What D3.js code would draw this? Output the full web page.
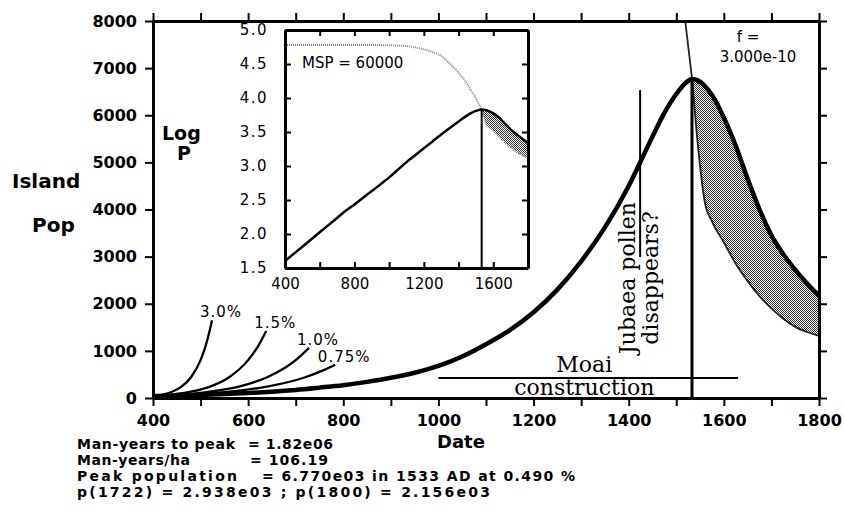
<!DOCTYPE html>
<html>
<head>
<meta charset="utf-8">
<script src="https://cdn.jsdelivr.net/npm/d3@7"></script>
<style>
body{margin:0;background:#fff}
svg{display:block}
</style>
</head>
<body>
<div id="chart"></div>
<script>
// population model run
const years = [400,450,500,550,600,650,700,750,800,850,900,950,1000,1050,1100,1150,1200,1250,1300,1350,1400,1450,1475,1500,1520,1533,1545,1560,1575,1600,1625,1650,1675,1700,1725,1750,1775,1800]
const pop = [40,51,65,83,106,135,172,220,272,342,428,537,680,880,1140,1440,1820,2300,2900,3620,4500,5550,6050,6450,6690,6770,6740,6620,6430,5950,5350,4650,4000,3450,3050,2720,2430,2170]
const cap = [60000,60000,60000,60000,60000,60000,60000,60000,60000,60000,60000,59900,59700,59000,58000,55500,52000,47500,41500,32000,23500,16000,12500,10000,7900,6770,5400,4150,3750,3300,2850,2480,2160,1900,1680,1510,1400,1319]

// simple exponential growth curves
const rate30Years = [400,420,440,460,480,500,510,520,524]
const rate30Pop = [40,73,133,242,441,804,1085,1464,1650]
const rate15Years = [400,440,480,520,560,600,620,638]
const rate15Pop = [40,73,133,242,441,804,1085,1421]
const rate10Years = [400,480,560,600,640,680,700,728]
const rate10Pop = [40,89,198,296,441,658,803,1063]
const rate075Years = [400,480,560,640,720,760,783]
const rate075Pop = [40,73,133,242,441,597,707]
const rateLabels = ["3.0%","1.5%","1.0%","0.75%"]

const yearTicks = [400,500,600,700,800,900,1000,1100,1200,1300,1400,1500,1600,1700,1800]
const yearLabels = [400,600,800,1000,1200,1400,1600,1800]
const popTicks = [0,1000,2000,3000,4000,5000,6000,7000,8000]
const insetXTicks = [400,600,800,1000,1200,1400,1600,1800]
const insetXLabels = [400,800,1200,1600]
const insetYTicks = [1.5,2.0,2.5,3.0,3.5,4.0,4.5,5.0]

const peakYear = 1533
const moaiStart = 1000, moaiEnd = 1630
const pollenYear = 1424

const summaryLines = [
  ["Man-years to peak", "= 1.82e06"],
  ["Man-years/ha", "= 106.19"],
  ["Peak population", "= 6.770e03 in 1533 AD at 0.490 %"],
  ["p(1722) = 2.938e03 ; p(1800) = 2.156e03", ""]
]

const width = 844, height = 526
const svg = d3.select("#chart").append("svg").attr("width",width).attr("height",height)

const sans = "'DejaVu Sans', sans-serif"
const serif = "'DejaVu Serif', serif"

const x = d3.scaleLinear().domain([400,1800]).range([153,819])
const y = d3.scaleLinear().domain([0,8000]).range([398,21])

const rows = years.map((yr,i)=>({year:yr,pop:pop[i],cap:cap[i]}))
const peakIdx = years.indexOf(peakYear)
const after = rows.slice(peakIdx)

// stipple for the shaded band
const defs = svg.append("defs")
const pat = defs.append("pattern").attr("id","stip").attr("width",2).attr("height",2)
   .attr("patternUnits","userSpaceOnUse")
pat.append("rect").attr("width",2).attr("height",2).attr("fill","#fff")
pat.append("rect").attr("width",1).attr("height",1).attr("fill","#333")
pat.append("rect").attr("x",1).attr("y",1).attr("width",1).attr("height",1).attr("fill","#333")

defs.append("clipPath").attr("id","mainclip").append("rect")
   .attr("x",x(400)).attr("y",y(8000)).attr("width",x(1800)-x(400)).attr("height",y(0)-y(8000))

const plot = svg.append("g").attr("clip-path","url(#mainclip)")

plot.append("path").datum(after)
   .attr("fill","url(#stip)")
   .attr("d",d3.area().x(d=>x(d.year)).y0(d=>y(d.cap)).y1(d=>y(d.pop)).curve(d3.curveMonotoneX))

plot.append("path").datum(rows.filter(d=>d.year>=1450))
   .attr("fill","none").attr("stroke","#222").attr("stroke-width",1.8)
   .attr("d",d3.line().x(d=>x(d.year)).y(d=>y(d.cap)).curve(d3.curveMonotoneX))

const rateSets = [[rate30Years,rate30Pop],[rate15Years,rate15Pop],[rate10Years,rate10Pop],[rate075Years,rate075Pop]]
rateSets.forEach(([ys,ps],k)=>{
  const pts = ys.map((v,i)=>[v,ps[i]])
  plot.append("path").datum(pts)
     .attr("fill","none").attr("stroke","#000").attr("stroke-width",2.3)
     .attr("d",d3.line().x(d=>x(d[0])).y(d=>y(d[1])).curve(d3.curveMonotoneX))
  const last = pts[pts.length-1]
  svg.append("text").attr("x",x(last[0])+9).attr("y",y(last[1])-3)
     .attr("text-anchor","middle").attr("font-family",sans).attr("font-size",15)
     .attr("letter-spacing",1).text(rateLabels[k])
})

plot.append("path").datum(rows)
   .attr("fill","none").attr("stroke","#000").attr("stroke-width",4.5)
   .attr("d",d3.line().x(d=>x(d.year)).y(d=>y(d.pop)).curve(d3.curveMonotoneX))

// peak marker
svg.append("line").attr("x1",x(peakYear)).attr("x2",x(peakYear))
   .attr("y1",y(0)).attr("y2",y(pop[peakIdx])).attr("stroke","#000").attr("stroke-width",3)

// moai construction
const moaiY = 378
svg.append("line").attr("x1",x(moaiStart)).attr("x2",x(moaiEnd)).attr("y1",moaiY).attr("y2",moaiY)
   .attr("stroke","#000").attr("stroke-width",2)
const moaiMid = (x(moaiStart)+x(moaiEnd))/2 - 4
svg.append("text").attr("x",moaiMid).attr("y",372).attr("text-anchor","middle")
   .attr("font-family",serif).attr("font-size",22).text("Moai")
svg.append("text").attr("x",moaiMid).attr("y",395).attr("text-anchor","middle")
   .attr("font-family",serif).attr("font-size",22).text("construction")

// jubaea pollen
svg.append("line").attr("x1",x(pollenYear)).attr("x2",x(pollenYear)).attr("y1",90).attr("y2",257)
   .attr("stroke","#000").attr("stroke-width",2)
svg.append("text").attr("transform",`translate(${x(pollenYear)-5},278) rotate(-90)`)
   .attr("text-anchor","middle").attr("font-family",serif).attr("font-size",22).text("Jubaea pollen")
svg.append("text").attr("transform",`translate(${x(pollenYear)+18},278) rotate(-90)`)
   .attr("text-anchor","middle").attr("font-family",serif).attr("font-size",22).text("disappears?")

// main axes
function styleAxis(g,fs){
  g.select(".domain").attr("stroke-width",3)
  g.selectAll(".tick line").attr("stroke-width",2)
  g.selectAll("text").attr("font-family",sans).attr("font-weight","bold").attr("font-size",fs)
}
svg.append("g").attr("transform",`translate(0,${y(0)})`)
   .call(d3.axisBottom(x).tickValues(yearTicks).tickSize(8).tickSizeOuter(0).tickPadding(9)
   .tickFormat(d=>yearLabels.includes(d)?d:""))
   .call(g=>styleAxis(g,16))
svg.append("g").attr("transform",`translate(0,${y(8000)})`)
   .call(d3.axisTop(x).tickValues(yearTicks).tickSize(8).tickSizeOuter(0).tickFormat(""))
   .call(g=>styleAxis(g,16))
svg.append("g").attr("transform",`translate(${x(400)},0)`)
   .call(d3.axisLeft(y).tickValues(popTicks).tickSize(8).tickSizeOuter(0).tickPadding(8)
   .tickFormat(d3.format("d")))
   .call(g=>styleAxis(g,16))
svg.append("g").attr("transform",`translate(${x(1800)},0)`)
   .call(d3.axisRight(y).tickValues(popTicks).tickSize(8).tickSizeOuter(0).tickFormat(""))
   .call(g=>styleAxis(g,16))

// axis titles
const bold = (t,xx,yy,fs)=>svg.append("text").attr("x",xx).attr("y",yy)
   .attr("font-family",sans).attr("font-weight","bold").attr("font-size",fs).text(t)
bold("Island",12,188,20)
bold("Pop",32,232,20)
bold("Date",437,448,18)
bold("Log",162,140,19)
svg.append("text").attr("x",184).attr("y",160).attr("text-anchor","middle")
   .attr("font-family",sans).attr("font-weight","bold").attr("font-size",19).text("P")

svg.append("text").attr("x",748).attr("y",42).attr("text-anchor","middle")
   .attr("font-family",sans).attr("font-size",15).text("f =")
svg.append("text").attr("x",758).attr("y",62).attr("text-anchor","middle")
   .attr("font-family",sans).attr("font-size",15).text("3.000e-10")

// inset: log10 of the same run
const xi = d3.scaleLinear().domain([400,1800]).range([285,528])
const yi = d3.scaleLinear().domain([1.5,5.0]).range([268,30])
const inset = svg.append("g")
inset.append("rect").attr("x",285).attr("y",30).attr("width",243).attr("height",238).attr("fill","#fff")
defs.append("clipPath").attr("id","insclip").append("rect")
   .attr("x",285).attr("y",30).attr("width",243).attr("height",238)
const ip = inset.append("g").attr("clip-path","url(#insclip)")
ip.append("path").datum(after).attr("fill","url(#stip)")
   .attr("d",d3.area().x(d=>xi(d.year)).y0(d=>yi(Math.log10(d.cap))).y1(d=>yi(Math.log10(d.pop))).curve(d3.curveMonotoneX))
ip.append("path").datum(rows).attr("fill","none").attr("stroke","#888").attr("stroke-width",2)
   .attr("stroke-dasharray","1,1")
   .attr("d",d3.line().x(d=>xi(d.year)).y(d=>yi(Math.log10(d.cap))).curve(d3.curveMonotoneX))
ip.append("path").datum(rows).attr("fill","none").attr("stroke","#000").attr("stroke-width",2.5)
   .attr("d",d3.line().x(d=>xi(d.year)).y(d=>yi(Math.log10(d.pop))).curve(d3.curveMonotoneX))
ip.append("line").attr("x1",xi(peakYear)).attr("x2",xi(peakYear))
   .attr("y1",yi(1.5)).attr("y2",yi(Math.log10(pop[peakIdx]))).attr("stroke","#000").attr("stroke-width",2)

function styleInset(g){
  g.select(".domain").attr("stroke-width",3)
  g.selectAll(".tick line").attr("stroke-width",2)
  g.selectAll("text").attr("font-family",sans).attr("font-size",15)
}
inset.append("g").attr("transform","translate(0,268)")
   .call(d3.axisBottom(xi).tickValues(insetXTicks).tickSize(-6).tickSizeOuter(0).tickPadding(10)
   .tickFormat(d=>insetXLabels.includes(d)?d:""))
   .call(styleInset)
inset.append("g").attr("transform","translate(0,30)")
   .call(d3.axisTop(xi).tickValues(insetXTicks).tickSize(-6).tickSizeOuter(0).tickFormat(""))
   .call(styleInset)
inset.append("g").attr("transform","translate(285,0)")
   .call(d3.axisLeft(yi).tickValues(insetYTicks).tickSize(-6).tickSizeOuter(0).tickPadding(17)
   .tickFormat(d3.format(".1f")))
   .call(styleInset)
   .call(g=>g.selectAll("text").attr("letter-spacing",1.5))
inset.append("g").attr("transform","translate(528,0)")
   .call(d3.axisRight(yi).tickValues(insetYTicks).tickSize(-6).tickSizeOuter(0).tickFormat(""))
   .call(styleInset)
inset.append("text").attr("x",302).attr("y",68).attr("font-family",sans).attr("font-size",15)
   .text("MSP = 60000")

// summary text under the chart
const labelLen = [158,113,160,413]
const eqX = [248,250,262]
const eqLen = [85,78,313]
summaryLines.forEach((ln,i)=>{
  const yy = 449 + i*16
  svg.append("text").attr("x",77).attr("y",yy).attr("font-family",sans).attr("font-weight","bold")
     .attr("font-size",14).attr("textLength",labelLen[i]).text(ln[0])
  if(ln[1]) svg.append("text").attr("x",eqX[i]).attr("y",yy).attr("font-family",sans)
     .attr("font-weight","bold").attr("font-size",14).attr("textLength",eqLen[i]).text(ln[1])
})
</script>
</body>
</html>
